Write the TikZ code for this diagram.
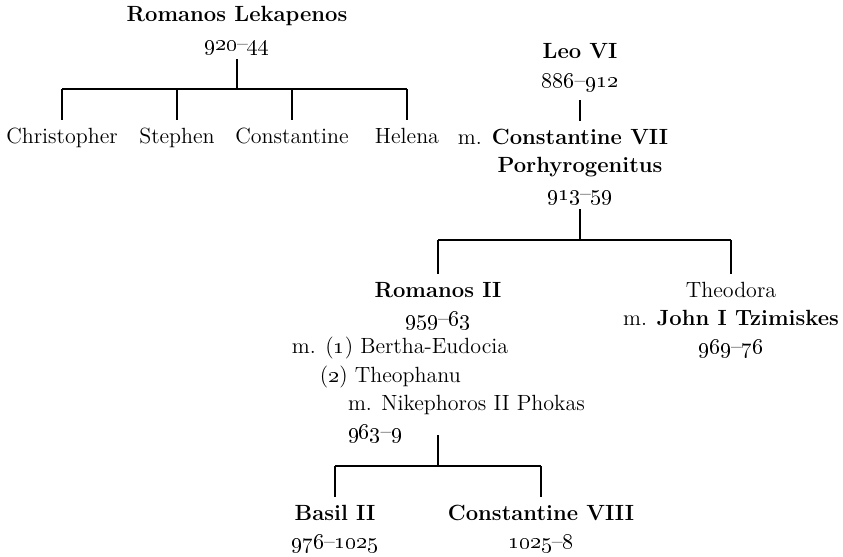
\documentclass[tikz,border=0pt]{standalone}
\usetikzlibrary{positioning}
\newcommand{\yr}[1]{\oldstylenums{#1}}

\begin{document}
\begin{tikzpicture}[x=0.5pt, y=-0.5pt, node distance=0pt,
    every node/.style={font=\fontsize{11}{13}\selectfont, inner sep=0pt, outer sep=2pt,
      text height=7.5pt, text depth=2.5pt},
    kin/.style={font=\fontsize{11}{13}\selectfont\bfseries},
    ruler/.style={line width=0.6pt},
    drop/.style={ruler, shorten >=2pt}]
    \useasboundingbox (0,0) rectangle (843,557);

    \node[kin] (lek) at (237,17) {Romanos Lekapenos};
    \node (lekdate) [below=of lek] {\yr{920}--\yr{44}};
    \node (christopher) at (62,138) {Christopher};
    \node (stephen) at (177,138) {Stephen};
    \node (constantine) at (292,138) {Constantine};
    \node (helena) at (407,138) {Helena};

    \node[kin] (leo) at (580,54) {Leo VI};
    \node (leodate) [below=of leo] {\yr{886}--\yr{912}};
    \node[kin] (cvii) at (580,139) {Constantine VII};
    \node (cviim) [left=1pt of cvii] {m.};
    \node[kin] (porph) [below=of cvii] {Porhyrogenitus};
    \node (cviidate) [below=of porph] {\yr{913}--\yr{59}};

    \node[kin] (rom) at (438,292) {Romanos II};
    \node (romdate) [below=of rom] {\yr{959}--\yr{63}};
    \node[anchor=west] (bertha) at (288,348) {m. (\yr{1}) Bertha-Eudocia};
    \node[anchor=west] (theophanu) at (316,377) {(\yr{2}) Theophanu};
    \node[anchor=west] (nikephoros) at (344,405) {m. Nikephoros II Phokas};
    \node[anchor=west] (nikdate) at (344,433) {\yr{963}--\yr{9}};

    \node (theodora) at (731,292) {Theodora};
    \node (john) [below=of theodora] {m. \textbf{John I Tzimiskes}};
    \node (johndate) [below=of john] {\yr{969}--\yr{76}};

    \node[kin] (basil) at (335,515) {Basil II};
    \node (basildate) [below=of basil] {\yr{976}--\yr{1025}};
    \node[kin] (cviii) at (541,515) {Constantine VIII};
    \node (cviiidate) [below=of cviii] {\yr{1025}--\yr{8}};

    \coordinate (bar1) at (0,89);
    \coordinate (bar2) at (0,240);
    \coordinate (stem3) at (438,435);
    \coordinate (bar3) at (0,466);

    \draw[ruler] (lekdate.south) -- (lekdate.south |- bar1);
    \draw[ruler] (christopher.north |- bar1) -- (helena.north |- bar1);
    \foreach \kid in {christopher, stephen, constantine, helena}
        \draw[drop] (\kid.north |- bar1) -- (\kid.north);

    \draw[drop, shorten <=2pt] (leodate) -- (cvii);

    \draw[ruler] (cviidate.south) -- (cviidate.south |- bar2);
    \draw[ruler] (rom.north |- bar2) -- (theodora.north |- bar2);
    \foreach \kid in {rom, theodora}
        \draw[drop] (\kid.north |- bar2) -- (\kid.north);

    \draw[ruler] (stem3) -- (stem3 |- bar3);
    \draw[ruler] (basil.north |- bar3) -- (cviii.north |- bar3);
    \foreach \kid in {basil, cviii}
        \draw[drop] (\kid.north |- bar3) -- (\kid.north);
\end{tikzpicture}
\end{document}
